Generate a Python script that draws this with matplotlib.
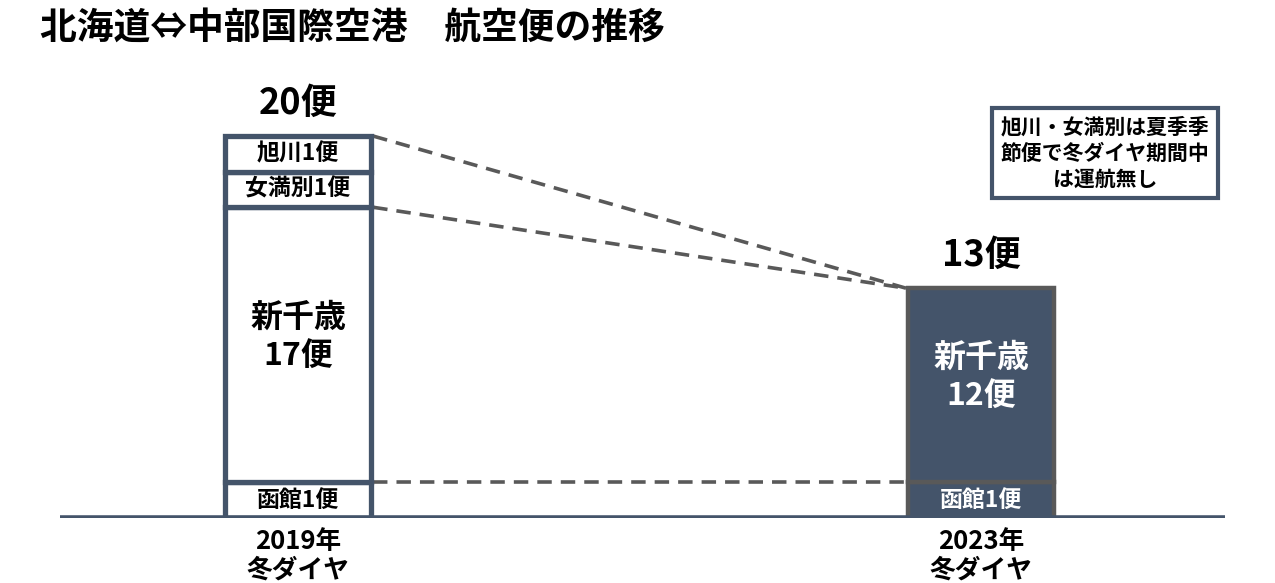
import matplotlib
matplotlib.use("Agg")
import matplotlib.pyplot as plt

plt.rcParams["font.family"] = ["Noto Sans CJK JP", "DejaVu Sans"]

# data
years = ["2019年\n冬ダイヤ", "2023年\n冬ダイヤ"]
airports = ["函館", "新千歳", "女満別", "旭川"]
flights_2019 = [1, 17, 1, 1]
flights_2023 = [1, 12, 0, 0]
totals = [sum(flights_2019), sum(flights_2023)]
note = "旭川・女満別は夏季季\n節便で冬ダイヤ期間中\nは運航無し"

SLATE = "#44546A"
GRAY = "#595959"
MIN_SEG = 2.2  # small segments are drawn taller so their labels fit

def seg_height(v):
  return max(v, MIN_SEG)

fig = plt.figure(figsize=(12.75, 5.83), dpi=100)
ax = fig.add_axes([60 / 1275, 65 / 583, 1165 / 1275, 458 / 583])
ax.set_xlim(-0.3485, 1.357)
ax.set_ylim(0, 28.3)
width = 0.214

tops = []
for i, vals in enumerate([flights_2019, flights_2023]):
  bottom = 0
  bounds = []
  for name, v in zip(airports, vals):
    if v == 0:
      continue
    h = seg_height(v)
    if i == 0:
      ax.bar(i, h, width, bottom=bottom, color="white", edgecolor=SLATE,
             linewidth=3.8, zorder=3)
      tc = "black"
    else:
      ax.bar(i, h, width, bottom=bottom, color=SLATE, edgecolor=GRAY,
             linewidth=3.2, zorder=3)
      tc = "white"
    if v > 1:
      ax.text(i, bottom + h / 2 + 0.5, f"{name}\n{v}便", ha="center",
              va="center", fontsize=23, fontweight="bold", color=tc,
              linespacing=1.25, zorder=4)
    else:
      ax.text(i, bottom + h / 2, f"{name}{v}便", ha="center", va="center",
              fontsize=16.5, fontweight="bold", color=tc, zorder=4)
    bottom += h
    bounds.append(bottom)
  tops.append(bounds)
  ax.text(i, bottom + 0.9, f"{totals[i]}便", ha="center", va="bottom",
          fontsize=26, fontweight="bold")

# connecting dashed lines
x1 = 0 + width / 2 + 0.003
x2 = 1 - width / 2 - 0.003
ax.plot([x1, x2], [tops[0][-1], tops[1][-1]], ls=(0, (4, 2.5)), color=GRAY,
        lw=2.6, zorder=2)
ax.plot([x1, x2], [tops[0][1], tops[1][-1]], ls=(0, (4, 2.5)), color=GRAY,
        lw=2.6, zorder=2)
ax.plot([x1, x2], [tops[0][0], tops[1][0]], ls=(0, (4, 2.5)), color=GRAY,
        lw=2.6, zorder=2)

ax.axhline(0, color=SLATE, lw=4, zorder=5)
for s in ax.spines.values():
  s.set_visible(False)
ax.set_yticks([])
ax.set_xticks([0, 1])
ax.set_xticklabels(years, fontsize=18.5, fontweight="bold", linespacing=1.1)
ax.tick_params(axis="x", length=0, pad=7)

fig.text(1105 / 1275, 1 - 153 / 583, note, ha="center", va="center",
         fontsize=15, fontweight="bold", linespacing=1.3,
         bbox=dict(boxstyle="square,pad=0.42", fc="white", ec=SLATE, lw=3))

fig.text(40 / 1275, 1 - 28 / 583, "北海道⇔中部国際空港　航空便の推移",
         ha="left", va="center", fontsize=26.5, fontweight="bold",
         family=["Noto Sans CJK JP", "DejaVu Sans"])

fig.savefig("out.png", dpi=100, facecolor="white")
